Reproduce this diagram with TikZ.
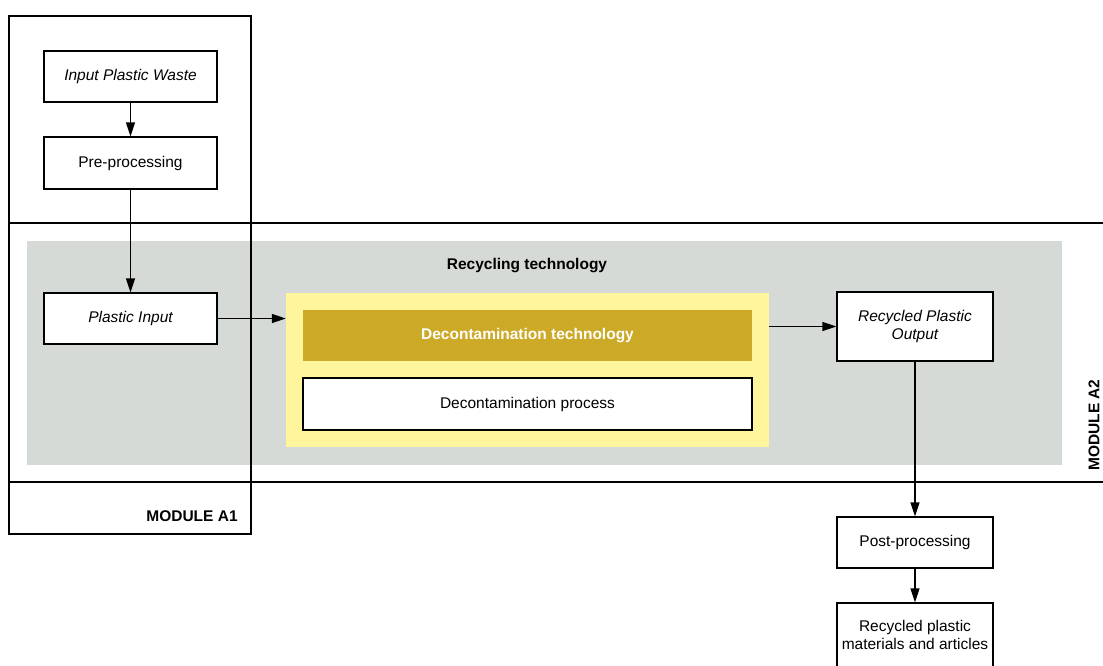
\documentclass[tikz,border=0pt]{standalone}
\usepackage{fontspec}
\setmainfont{Liberation Sans}
\usetikzlibrary{arrows.meta}
\definecolor{bandgray}{HTML}{D5DAD6}
\definecolor{paleyellow}{HTML}{FFF59D}
\definecolor{gold}{HTML}{CCA926}
\tikzset{
  box/.style={draw=black, line width=1.3pt, fill=white, align=center, inner sep=2pt,
    font=\fontsize{15.5}{18.5}\selectfont},
  ibox/.style={box, font=\fontsize{15.5}{18.5}\selectfont\itshape},
  frame/.style={draw=black, line width=1.3pt},
  conn/.style={line width=1.4pt, -{Triangle[length=14pt,width=9pt]}},
  lbl/.style={font=\fontsize{15.5}{18}\selectfont\bfseries}
}
\begin{document}
\begin{tikzpicture}[x=1pt,y=-1pt]
\useasboundingbox (0,0) rectangle (1103,665);
\fill[white] (0,0) rectangle (1103,665);
% module A1 frame
\node[frame, minimum width=242pt, minimum height=518pt, inner sep=0pt] (a1) at (130,275) {};
% module A2 band
\draw[frame] (9,223) -- (1103,223);
\draw[frame] (9,482) -- (1103,482);
% gray area
\node[fill=bandgray, minimum width=1035pt, minimum height=224pt, inner sep=0pt] (gray) at (544.5,353) {};
\draw[frame] (9,223) -- (9,482);
\draw[frame] (251,223) -- (251,482);
\node[lbl] (rt) at (527,266) {Recycling technology};
% yellow frame
\node[fill=paleyellow, minimum width=483pt, minimum height=154pt, inner sep=0pt] (yel) at (527.5,370) {};
\node[fill=gold, minimum width=449pt, minimum height=51pt, inner sep=0pt, text=white,
  font=\fontsize{15.5}{18.5}\selectfont\bfseries] (dt) at (527.5,335.5) {Decontamination technology};
\node[box, line width=2pt, minimum width=449pt, minimum height=52pt, inner sep=0pt] (dp) at (527.5,404) {Decontamination process};
% boxes
\node[ibox, minimum width=173pt, minimum height=51pt] (ipw) at (130.5,76.5) {Input Plastic Waste};
\node[box, minimum width=173pt, minimum height=52pt] (pre) at (130.5,163) {Pre-processing};
\node[ibox, minimum width=173pt, minimum height=51pt] (pi) at (130.5,318.5) {Plastic Input};
\node[ibox, minimum width=156pt, minimum height=69pt] (ro) at (915,326.5) {Recycled Plastic\\Output};
\node[box, minimum width=156pt, minimum height=51pt] (post) at (915,542.5) {Post-processing};
\node[box, minimum width=156pt, minimum height=64pt] (rm) at (915,635) {Recycled plastic\\materials and articles};
% labels
\node[lbl] (ma1) at (192,516) {MODULE A1};
\node[lbl, rotate=90] (ma2) at (1094,425) {MODULE A2};
% connectors
\draw[conn] (ipw) -- (pre);
\draw[conn] (pre) -- (pi);
\draw[conn] (pi.east) -- (pi.east -| yel.west);
\draw[conn] (yel.east |- ro.west) -- (ro.west);
\draw[conn] (ro) -- (post);
\draw[conn] (post) -- (rm);
\end{tikzpicture}
\end{document}
